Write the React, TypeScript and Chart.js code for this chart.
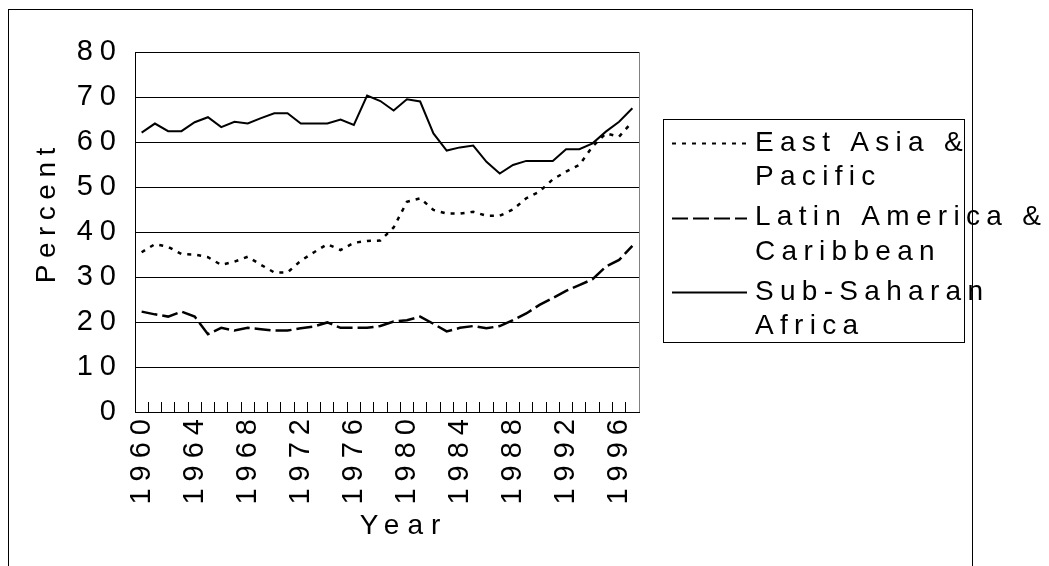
import React, { useEffect, useRef } from 'react';
import { Chart, registerables } from 'chart.js';

Chart.register(...registerables);

const years = [
  '1960', '1961', '1962', '1963', '1964', '1965', '1966', '1967', '1968', '1969',
  '1970', '1971', '1972', '1973', '1974', '1975', '1976', '1977', '1978', '1979',
  '1980', '1981', '1982', '1983', '1984', '1985', '1986', '1987', '1988', '1989',
  '1990', '1991', '1992', '1993', '1994', '1995', '1996', '1997',
];

const eastAsiaPacific = [
  35.5, 37.3, 36.7, 35.1, 35.0, 34.4, 32.7, 33.4, 34.5, 32.7,
  31.0, 31.0, 33.6, 35.5, 37.3, 36.0, 37.6, 38.0, 38.1, 41.0,
  46.7, 47.5, 44.9, 44.1, 44.1, 44.5, 43.6, 43.6, 45.0, 47.5,
  49.0, 51.7, 53.4, 54.9, 59.0, 61.9, 61.2, 64.5,
];

const latinAmericaCaribbean = [
  22.3, 21.7, 21.2, 22.3, 21.2, 17.3, 18.7, 18.1, 18.7, 18.4,
  18.1, 18.1, 18.6, 19.0, 19.9, 18.7, 18.7, 18.7, 19.1, 20.1,
  20.4, 21.2, 19.6, 17.9, 18.7, 19.1, 18.6, 19.1, 20.4, 21.9,
  23.8, 25.3, 26.9, 28.2, 29.5, 32.3, 33.8, 36.9,
];

const subSaharanAfrica = [
  62.1, 64.1, 62.4, 62.4, 64.4, 65.5, 63.3, 64.5, 64.1, 65.3,
  66.4, 66.4, 64.1, 64.1, 64.1, 65.0, 63.8, 70.3, 69.1, 67.0,
  69.5, 69.0, 61.9, 58.1, 58.8, 59.2, 55.6, 53.0, 54.9, 55.8,
  55.8, 55.8, 58.4, 58.4, 59.7, 62.3, 64.5, 67.5,
];

const legendLines = [
  ['East Asia &', 'Pacific'],
  ['Latin America &', 'Caribbean'],
  ['Sub-Saharan', 'Africa'],
];

const yTitle = 'Percent';
const xTitle = 'Year';

const FONT = "'Liberation Sans', Arial, sans-serif";

function spacedText(ctx: any, text: string, cx: number, cy: number, spacing: number) {
  ctx.letterSpacing = `${spacing}px`;
  const w = ctx.measureText(text).width - spacing;
  ctx.textAlign = 'left';
  ctx.textBaseline = 'middle';
  ctx.fillText(text, cx - w / 2, cy);
}

const framePlugin = {
  id: 'frame',
  beforeDraw(chart: any) {
    const ctx = chart.ctx;
    ctx.save();
    ctx.fillStyle = '#ffffff';
    ctx.fillRect(0, 0, chart.width, chart.height);
    ctx.strokeStyle = '#000000';
    ctx.lineWidth = 1;
    ctx.strokeRect(8.5, 9.5, 964, 700);
    ctx.restore();
    ctx.letterSpacing = '7px';
  },
  beforeDatasetsDraw(chart: any) {
    const ctx = chart.ctx;
    const a = chart.chartArea;
    ctx.save();
    ctx.strokeStyle = '#808080';
    ctx.lineWidth = 1;
    ctx.beginPath();
    ctx.moveTo(Math.round(a.right) + 0.5, a.top);
    ctx.lineTo(Math.round(a.right) + 0.5, a.bottom);
    ctx.stroke();
    ctx.restore();
  },
  afterDraw(chart: any) {
    const ctx = chart.ctx;
    ctx.save();
    ctx.fillStyle = '#000000';
    ctx.font = `28px ${FONT}`;
    // axis titles
    spacedText(ctx, xTitle, 400, 526, 8);
    ctx.save();
    ctx.translate(47, 215.5);
    ctx.rotate(-Math.PI / 2);
    spacedText(ctx, yTitle, 0, 0, 6.5);
    ctx.restore();
    // legend
    ctx.letterSpacing = '0px';
    ctx.strokeStyle = '#000000';
    ctx.lineWidth = 1;
    ctx.strokeRect(663.5, 119.5, 301, 223);
    chart.data.datasets.forEach((ds: any, i: number) => {
      const y0 = 143 + i * 74.5;
      ctx.save();
      ctx.letterSpacing = '0px';
      ctx.strokeStyle = ds.borderColor;
      ctx.lineWidth = 2;
      ctx.setLineDash(ds.borderDash || []);
      ctx.beginPath();
      ctx.moveTo(672, Math.round(y0) + 0.5);
      ctx.lineTo(747, Math.round(y0) + 0.5);
      ctx.stroke();
      ctx.restore();
      ctx.letterSpacing = '6.3px';
      ctx.textAlign = 'left';
      ctx.textBaseline = 'middle';
      legendLines[i].forEach((line, j) => {
        ctx.fillText(line, 755, y0 + j * 34.5);
      });
    });
    ctx.restore();
  },
};

export default function App() {
  const ref = useRef<HTMLCanvasElement>(null);
  useEffect(() => {
    const chart = new Chart(ref.current as HTMLCanvasElement, {
      type: 'line',
      data: {
        labels: years,
        datasets: [
          {
            label: legendLines[0].join(' '),
            data: eastAsiaPacific,
            borderColor: '#000000',
            borderWidth: 2.5,
            borderDash: [4, 6],
            pointRadius: 0,
            tension: 0,
            fill: false,
          },
          {
            label: legendLines[1].join(' '),
            data: latinAmericaCaribbean,
            borderColor: '#000000',
            borderWidth: 2.5,
            borderDash: [16, 5],
            pointRadius: 0,
            tension: 0,
            fill: false,
          },
          {
            label: legendLines[2].join(' '),
            data: subSaharanAfrica,
            borderColor: '#000000',
            borderWidth: 2,
            pointRadius: 0,
            tension: 0,
            fill: false,
          },
        ],
      },
      options: {
        animation: false,
        responsive: false,
        devicePixelRatio: 1,
        layout: { padding: { left: 0, right: 410, top: 52, bottom: 0 } },
        plugins: { legend: { display: false }, tooltip: { enabled: false } },
        scales: {
          x: {
            type: 'category',
            offset: true,
            grid: {
              offset: true,
              drawOnChartArea: false,
              drawTicks: true,
              tickLength: -10,
              color: '#000000',
              lineWidth: 1,
            },
            border: { color: '#000000', width: 1 },
            ticks: {
              autoSkip: false,
              minRotation: 90,
              maxRotation: 90,
              padding: 10,
              color: '#000000',
              font: { family: FONT, size: 29 },
              callback: (_v: any, i: number) => (i % 4 === 0 ? years[i] : ''),
            },
            afterFit: (s: any) => {
              s.height = 154;
            },
          },
          y: {
            min: 0,
            max: 80,
            ticks: {
              stepSize: 10,
              padding: 12,
              color: '#000000',
              font: { family: FONT, size: 29 },
            },
            grid: { color: '#000000', lineWidth: 1, drawTicks: false },
            border: { color: '#000000', width: 1 },
            afterFit: (s: any) => {
              s.width = 135;
            },
          },
        },
      },
      plugins: [framePlugin],
    } as any);
    return () => chart.destroy();
  }, []);

  return (
    <div style={{ position: 'fixed', left: 0, top: 0, width: 1049, height: 566, background: '#ffffff' }}>
      <canvas ref={ref} width={1049} height={566} style={{ display: 'block', width: 1049, height: 566 }} />
    </div>
  );
}
